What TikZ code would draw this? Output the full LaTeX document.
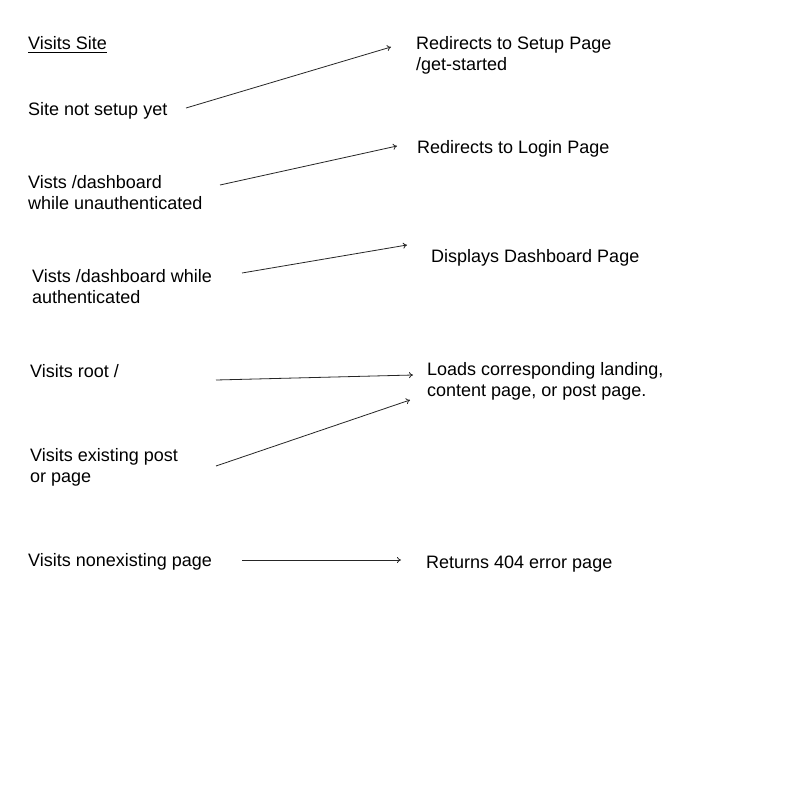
\documentclass[tikz,border=0pt]{standalone}
\usepackage{fontspec}
\setmainfont{Liberation Sans}
\usetikzlibrary{arrows.meta}
\begin{document}
\begin{tikzpicture}[x=1pt,y=-1pt,
  lbl/.style={anchor=base west,inner sep=0pt,align=left,font=\fontsize{18}{21}\selectfont},
  conn/.style={draw=black!85,line width=0.8pt,-{To[length=4pt,width=6pt]}}]
\useasboundingbox[fill=white] (0,0) rectangle (800,800);
% left column
\node[lbl] (vs) at (28,49.5) {Visits Site};
\draw[line width=0.8pt] ([yshift=-3pt]vs.base west) -- ([yshift=-3pt]vs.base east);
\node[lbl] (s1) at (28,115.5) {Site not setup yet};
\node[lbl] (s2) at (28,209.5) {Vists /dashboard\\while unauthenticated};
\node[lbl] (s3) at (32,303.5) {Vists /dashboard while\\authenticated};
\node[lbl] (s4) at (30,377.5) {Visits root /};
\node[lbl] (s5) at (30,482.5) {Visits existing post\\or page};
\node[lbl] (s6) at (28,566.5) {Visits nonexisting page};
% right column
\node[lbl] (r1) at (416,70.5) {Redirects to Setup Page\\/get-started};
\node[lbl] (r2) at (417,153.5) {Redirects to Login Page};
\node[lbl] (r3) at (431,262.5) {Displays Dashboard Page};
\node[lbl] (r4) at (427,396.5) {Loads corresponding landing,\\content page, or post page.};
\node[lbl] (r6) at (426,568.5) {Returns 404 error page};
% arrow end points
\coordinate (a1s) at (186,108); \coordinate (a1e) at (391,47);
\coordinate (a2s) at (220,185); \coordinate (a2e) at (397,146);
\coordinate (a3s) at (242,273); \coordinate (a3e) at (407,245);
\coordinate (a4s) at (216,380); \coordinate (a4e) at (413,375);
\coordinate (a5s) at (216,466); \coordinate (a5e) at (410,400);
\coordinate (a6s) at (242,560); \coordinate (a6e) at (401,560);
\draw[conn] (a1s) -- (a1e);
\draw[conn] (a2s) -- (a2e);
\draw[conn] (a3s) -- (a3e);
\draw[conn] (a4s) -- (a4e);
\draw[conn] (a5s) -- (a5e);
\draw[conn] (a6s) -- (a6e);
\end{tikzpicture}
\end{document}
